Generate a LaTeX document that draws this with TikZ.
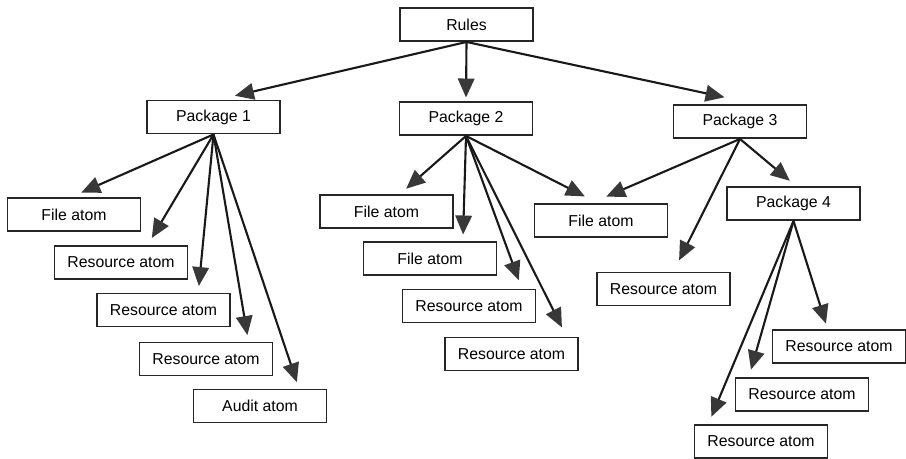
\documentclass[tikz,border=0pt]{standalone}
\usepackage{fontspec}
\setmainfont{Liberation Sans}
\usetikzlibrary{arrows.meta,calc}

\begin{document}
\begin{tikzpicture}[x=0.02cm,y=-0.02cm,
  box/.style={rectangle,draw=black!85,line width=1.1pt,fill=white,minimum width=2.66cm,minimum height=0.66cm,inner sep=0pt,font=\fontsize{9}{11}\selectfont},
  arr/.style={line width=1.2pt,draw=black!90,-{Triangle[length=0.38cm,width=0.33cm,color=black!78]},shorten >=2pt}]
\useasboundingbox (0,0) rectangle (906,459);

\node[box] (rules) at (466.5,24.5){Rules};
\node[box] (pkga) at (213.5,117){Package 1};
\node[box] (pkgb) at (466,118.5){Package 2};
\node[box] (pkgc) at (740,121.5){Package 3};
\node[box] (pkgd) at (793.5,203.5){Package 4};

%package 1 side
\node[box] (filea) at (74,214.5){File atom};
\node[box] (resa) at (121,262.5){Resource atom};
\node[box] (resb) at (163.5,310){Resource atom};
\node[box] (resc) at (206,359){Resource atom};
\node[box] (audit) at (260,406){Audit atom};

%package 2 side
\node[box] (fileb) at (386.5,211.5){File atom};
\node[box] (filec) at (430,258.5){File atom};
\node[box] (resd) at (469,306){Resource atom};
\node[box] (rese) at (511.5,354){Resource atom};
\node[box] (filed) at (601,220.5){File atom};

%package 3 and 4 side
\node[box] (resf) at (663.5,289){Resource atom};
\node[box] (resg) at (839,346.5){Resource atom};
\node[box] (resh) at (802,394.5){Resource atom};
\node[box] (resi) at (761,441.5){Resource atom};

\draw[arr] (rules.south) to ($(pkga.north)+(18,-3)$);
\draw[arr] (rules.south) to (pkgb.north);
\draw[arr] (rules.south) to ($(pkgc.north)+(-12,-6)$);

\draw[arr] (pkga.south) to ($(filea.north)+(4,-3)$);
\draw[arr] (pkga.south) to ($(resa.north)+(29,-4)$);
\draw[arr] (pkga.south) to ($(resb.north)+(35,-3)$);
\draw[arr] (pkga.south) to ($(resc.north)+(42,-3)$);
\draw[arr] (pkga.south) to ($(audit.north)+(38,-3)$);

\draw[arr] (pkgb.south) to ($(fileb.north)+(17,-3)$);
\draw[arr] (pkgb.south) to ($(filec.north)+(33,-3)$);
\draw[arr] (pkgb.south) to ($(resd.north)+(51,-5)$);
\draw[arr] (pkgb.south) to ($(rese.north)+(52,-6)$);
\draw[arr] (pkgb.south) to ($(filed.north)+(-13,-5)$);

\draw[arr] (pkgc.south) to ($(filed.north)+(2,-5)$);
\draw[arr] (pkgc.south) to ($(resf.north)+(14,-8)$);
\draw[arr] (pkgc.south) to ($(pkgd.north)+(-1,-3)$);

\draw[arr] (pkgd.south) to ($(resg.north)+(-12,-2)$);
\draw[arr] (pkgd.south) to ($(resh.north)+(-52,-4)$);
\draw[arr] (pkgd.south) to ($(resi.north)+(-51,-4)$);

\end{tikzpicture}
\end{document}
